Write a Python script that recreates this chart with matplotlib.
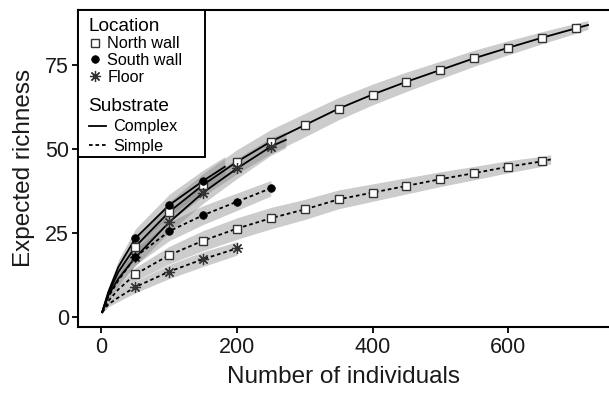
import numpy as np
import matplotlib.pyplot as plt
from matplotlib.lines import Line2D
from matplotlib.patches import Rectangle

plt.rcParams['font.family'] = ['Liberation Sans', 'DejaVu Sans']

# rarefaction curves (x = individuals, y = expected richness, ci = half width)
nw_cx_x = [1, 10, 25, 50, 100, 150, 200, 250, 300, 350, 400, 450, 500, 550, 600, 650, 700, 718]
nw_cx_y = [1.5, 7.0, 13.5, 21.0, 31.4, 39.4, 46.3, 52.3, 57.2, 62.1, 66.3, 70.1, 73.6, 77.1, 80.2, 83.2, 86.0, 87.0]
nw_cx_ci = [0.3, 1.0, 1.6, 2.2, 3.0, 3.4, 3.6, 3.6, 3.5, 3.3, 3.1, 2.9, 2.6, 2.4, 2.1, 1.8, 1.5, 1.3]

sw_cx_x = [1, 10, 25, 50, 100, 150, 182]
sw_cx_y = [1.5, 7.5, 15.0, 23.5, 33.4, 40.6, 44.8]
sw_cx_ci = [0.3, 1.2, 2.0, 2.8, 3.2, 3.2, 3.0]

fl_cx_x = [1, 10, 25, 50, 100, 150, 200, 250, 272]
fl_cx_y = [1.5, 6.5, 11.5, 17.8, 28.3, 37.1, 44.3, 50.8, 52.8]
fl_cx_ci = [0.3, 1.0, 1.8, 2.5, 3.0, 3.2, 3.0, 2.6, 2.4]

nw_sm_x = [1, 10, 25, 50, 100, 150, 200, 250, 300, 350, 400, 450, 500, 550, 600, 650, 663]
nw_sm_y = [1.5, 4.8, 8.3, 12.8, 18.5, 22.8, 26.4, 29.5, 32.1, 35.1, 37.1, 39.1, 41.1, 42.9, 44.8, 46.4, 47.0]
nw_sm_ci = [0.3, 0.8, 1.4, 2.0, 2.6, 3.0, 3.2, 3.2, 3.0, 2.8, 2.6, 2.4, 2.2, 2.0, 1.8, 1.5, 1.4]

sw_sm_x = [1, 10, 25, 50, 100, 150, 200, 250]
sw_sm_y = [1.5, 6.0, 11.0, 18.0, 25.6, 30.4, 34.4, 38.4]
sw_sm_ci = [0.3, 1.0, 1.7, 2.4, 2.8, 2.8, 2.6, 2.3]

fl_sm_x = [1, 10, 25, 50, 100, 150, 200]
fl_sm_y = [1.5, 3.8, 5.9, 9.0, 13.6, 17.3, 20.5]
fl_sm_ci = [0.3, 0.7, 1.2, 1.7, 2.1, 2.2, 2.0]

locations = ['North wall', 'South wall', 'Floor']
substrates = ['Complex', 'Simple']

marker_style = {
    'North wall': dict(marker='s', ms=5.5, mfc='white', mec='0.2', mew=1.0),
    'South wall': dict(marker='o', ms=5.5, mfc='black', mec='black', mew=0.5),
    'Floor': dict(marker=(8, 2, 0), ms=8, mfc='0.2', mec='0.2', mew=0.9),
}
line_style = {'Complex': '-', 'Simple': (0, (2, 1.6))}

series = [
    ('North wall', 'Complex', nw_cx_x, nw_cx_y, nw_cx_ci),
    ('South wall', 'Complex', sw_cx_x, sw_cx_y, sw_cx_ci),
    ('Floor', 'Complex', fl_cx_x, fl_cx_y, fl_cx_ci),
    ('North wall', 'Simple', nw_sm_x, nw_sm_y, nw_sm_ci),
    ('South wall', 'Simple', sw_sm_x, sw_sm_y, sw_sm_ci),
    ('Floor', 'Simple', fl_sm_x, fl_sm_y, fl_sm_ci),
]

fig = plt.figure(figsize=(6.09, 3.95), dpi=100)
ax = fig.add_axes([0.128, 0.173, 0.872, 0.802])

for loc, sub, x, y, ci in series:
    x = np.array(x)
    y = np.array(y)
    ci = np.array(ci)
    ax.fill_between(x, y - ci, y + ci, color='0.5', alpha=0.4, lw=0, zorder=1)
    ax.plot(x, y, color='black', lw=1.3, ls=line_style[sub], zorder=2)
    m = (x % 50 == 0)
    ax.plot(x[m], y[m], ls='none', zorder=3, **marker_style[loc])

ax.set_xlim(-34.7, 749)
ax.set_ylim(-2.8, 91.5)
ax.set_xticks([0, 200, 400, 600])
ax.set_yticks([0, 25, 50, 75])
ax.tick_params(labelsize=15.5, length=4.5, width=1.3, color='black', labelcolor='0.1')
ax.tick_params(axis='x', pad=3)
ax.tick_params(axis='y', pad=2)
for s in ['left', 'bottom', 'top']:
    ax.spines[s].set_linewidth(1.5)
ax.spines['right'].set_visible(False)
ax.set_xlabel('Number of individuals', fontsize=17.5, color='0.1', labelpad=6)
ax.set_ylabel('Expected richness', fontsize=17.5, color='0.1', labelpad=7)

# legend box
ax.add_patch(Rectangle((0, 0.536), 0.239, 0.464, transform=ax.transAxes,
                       facecolor='white', edgecolor='black', lw=1.4, zorder=5, clip_on=False))

loc_handles = [Line2D([], [], ls='none', **marker_style[l]) for l in locations]
leg1 = ax.legend(loc_handles, locations, title='Location', loc='upper left',
                 bbox_to_anchor=(0.005, 1.0), frameon=False, fontsize=11.7, title_fontsize=13.7,
                 alignment='left', handlelength=0.8, handletextpad=0.35,
                 labelspacing=0.1, borderpad=0.49, borderaxespad=0)
leg1.set_zorder(6)
ax.add_artist(leg1)

sub_handles = [Line2D([], [], color='black', lw=1.3, ls=line_style[s]) for s in substrates]
leg2 = ax.legend(sub_handles, substrates, title='Substrate', loc='upper left',
                 bbox_to_anchor=(0.005, 0.748), frameon=False, fontsize=11.7, title_fontsize=13.7,
                 alignment='left', handlelength=1.1, handletextpad=0.4,
                 labelspacing=0.28, borderpad=0.49, borderaxespad=0)
leg2.set_zorder(6)

fig.savefig('out.png', dpi=100)
